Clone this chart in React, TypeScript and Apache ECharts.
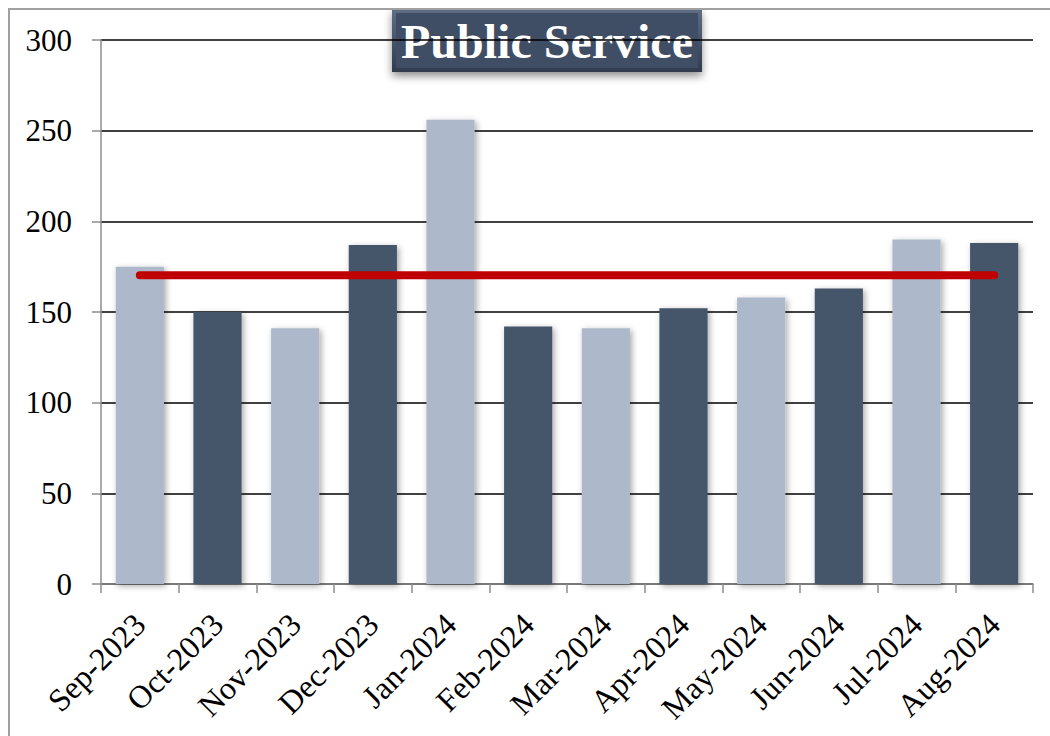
import React, { useEffect, useRef } from "react";
import * as echarts from "echarts";

const months = [
  "Sep-2023", "Oct-2023", "Nov-2023", "Dec-2023", "Jan-2024", "Feb-2024",
  "Mar-2024", "Apr-2024", "May-2024", "Jun-2024", "Jul-2024", "Aug-2024",
];
const counts = [175, 150, 141, 187, 256, 142, 141, 152, 158, 163, 190, 188];
const barColors = ["#ADB9CA", "#44546A"];
const titleText = "Public Service";
const yMax = 300;
const yStep = 50;

const average = counts.reduce((a, b) => a + b, 0) / counts.length;
const averageLine = months.map(() => average);

const FONT = "'Liberation Serif', 'Times New Roman', serif";

export default function App() {
  const ref = useRef<HTMLDivElement>(null);

  useEffect(() => {
    if (!ref.current) return;
    const chart = echarts.init(ref.current, undefined, { renderer: "svg" });
    chart.setOption({
      animation: false,
      backgroundColor: "#ffffff",
      grid: { left: 93, right: 17, top: 32, bottom: 152, containLabel: false },
      xAxis: {
        type: "category",
        data: months,
        boundaryGap: true,
        axisLine: { show: true, lineStyle: { color: "#8c8c8c", width: 1.5 } },
        axisTick: { show: true, length: 9, lineStyle: { color: "#8c8c8c", width: 1.5 } },
        axisLabel: {
          rotate: 45,
          margin: 35,
          fontFamily: FONT,
          fontSize: 32,
          color: "#000000",
          interval: 0,
        },
        splitLine: { show: false },
      },
      yAxis: {
        type: "value",
        min: 0,
        max: yMax,
        interval: yStep,
        axisLine: { show: true, lineStyle: { color: "#8c8c8c", width: 1.5 } },
        axisTick: { show: true, length: 9, lineStyle: { color: "#8c8c8c", width: 1.5 } },
        axisLabel: {
          margin: 29,
          fontFamily: FONT,
          fontSize: 31,
          color: "#000000",
        },
        splitLine: {
          show: true,
          lineStyle: { color: "#000000", width: 1.6 },
        },
      },
      series: [
        {
          type: "bar",
          data: counts.map((v, i) => ({
            value: v,
            itemStyle: { color: barColors[i % 2] },
          })),
          barCategoryGap: "38%",
          itemStyle: {
            shadowColor: "rgba(0,0,0,0.35)",
            shadowBlur: 6,
            shadowOffsetX: 2,
            shadowOffsetY: 2,
          },
          z: 2,
        },
        {
          type: "line",
          data: averageLine,
          symbol: "none",
          lineStyle: { color: "#C00000", width: 8, cap: "round" },
          z: 3,
        },
      ],
      graphic: [
        {
          type: "line",
          shape: { x1: 1, y1: 0, x2: 1, y2: 728 },
          style: { stroke: "#a0a0a0", lineWidth: 2 },
          z: 10,
        },
        {
          type: "line",
          shape: { x1: 0, y1: 1, x2: 1042, y2: 1 },
          style: { stroke: "#a0a0a0", lineWidth: 2 },
          z: 10,
        },
        {
          type: "group",
          left: 384,
          top: 1,
          z: 20,
          children: [
            {
              type: "rect",
              shape: { x: 0, y: 0, width: 310, height: 63 },
              style: {
                fill: new echarts.graphic.LinearGradient(0, 0, 0, 1, [
                  { offset: 0, color: "#5f6e84" },
                  { offset: 1, color: "#2f3b4d" },
                ]),
                shadowColor: "rgba(0,0,0,0.45)",
                shadowBlur: 8,
                shadowOffsetY: 4,
              },
            },
            {
              type: "rect",
              shape: { x: 4, y: 4, width: 302, height: 55 },
              style: { fill: "#3f4e64" },
            },
            {
              type: "text",
              x: 155,
              y: 32,
              style: {
                text: titleText,
                fill: "#ffffff",
                font: `bold 48px ${FONT}`,
                align: "center",
                verticalAlign: "middle",
              },
            },
          ],
        },
      ],
    });
    return () => chart.dispose();
  }, []);

  return (
    <div
      ref={ref}
      style={{ position: "absolute", left: 8, top: 8, width: 1042, height: 728 }}
    />
  );
}
